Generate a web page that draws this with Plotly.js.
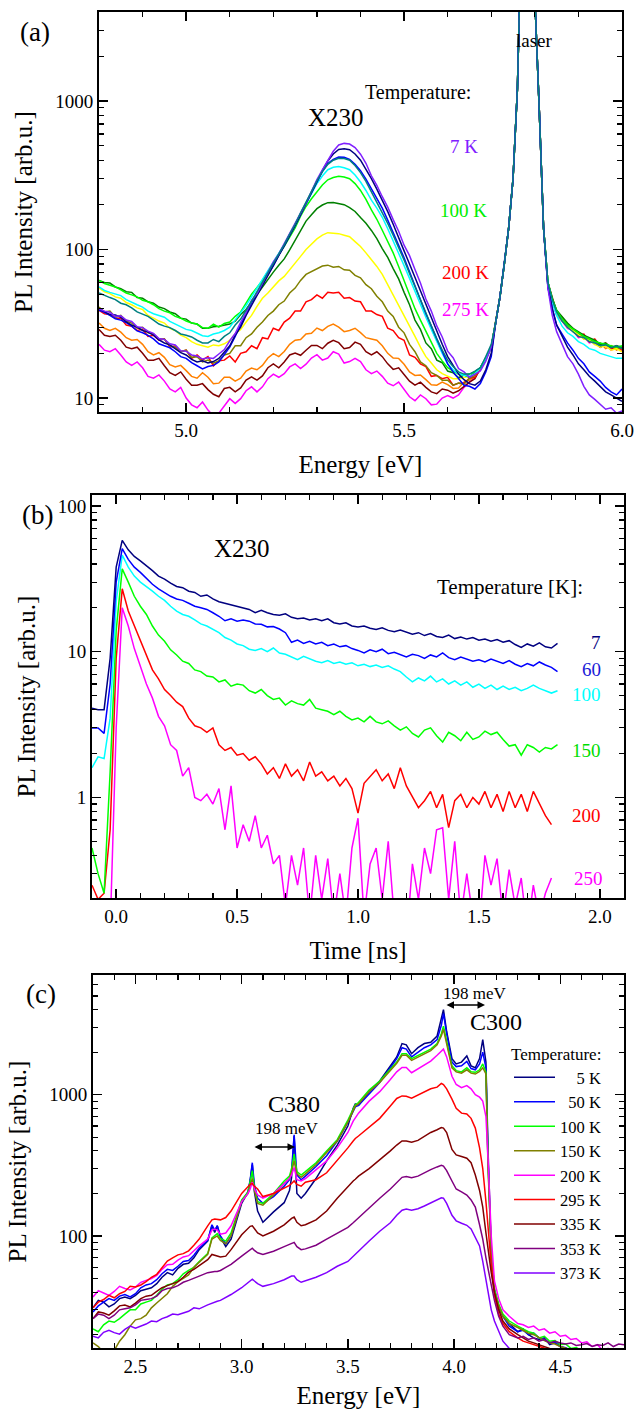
<!DOCTYPE html>
<html><head><meta charset="utf-8">
<script src="https://cdn.plot.ly/plotly-3.0.1.min.js"></script>
<style>html,body{margin:0;padding:0;background:#fff}#g{width:636px;height:1409px}</style>
</head><body><div id="g"></div>
<script>
// ---------- Panel (a): PL spectra vs energy ----------
const energyA = [4.8,4.8125,4.825,4.8375,4.85,4.8625,4.875,4.8875,4.9,4.9125,4.925,4.9375,4.95,4.9625,4.975,4.9875,5.0,5.0125,5.025,5.0375,
  5.05,5.0625,5.075,5.0875,5.1,5.1125,5.125,5.1375,5.15,5.1625,5.175,5.1875,5.2,5.2125,5.225,5.2375,5.25,5.2625,5.275,5.2875,
  5.3,5.3125,5.325,5.3375,5.35,5.3625,5.375,5.3875,5.4,5.4125,5.425,5.4375,5.45,5.4625,5.475,5.4875,5.5,5.5125,5.525,5.5375,
  5.55,5.5625,5.575,5.5875,5.6,5.6125,5.625,5.6375,5.65,5.6625,5.675,5.6875,5.7,
  5.71,5.72,5.73,5.74,5.75,5.76,5.77,5.80,5.81,5.82,
  5.83,5.84,5.85,5.8625,5.875,5.8875,5.9,5.9125,5.925,5.9375,5.95,5.9625,5.975,5.9875,6.0];
const laserCore = [32,48,80,140,300,1200,20000,5000,900,140];
const a_violet = [40,38.5,37.8,35.5,35.8,33.5,32.8,30.2,29.8,28.2,27.3,25.2,24.8,23.2,22.8,20.8,20.7,19.5,19.2,18.3,18.7,18.5,19.8,21.2,24.3,27.2,32.4,37.6,45.5,50.6,
  59.5,69.5,82.5,93.5,109,127,151,175,206,247,296,344,401,459,506,519,514,486,439,381,314,271,227,193,159,133,107,91,73.5,59.5,
  46.5,38.5,30.6,25.8,20.7,18.7,15.8,15,13.8,14.4,15.2,17.7,22,
  ...laserCore, 55,36,28,23,19,17,14.5,12,10.5,9.8,9,8.4,8.6,7.9,8.2];
const a_navy = [40,38.2,36.5,36.2,35,32.6,31,30,28.5,27.8,26.5,24.6,23.5,22.8,21.5,20.2,19.5,18.2,17.5,17.8,17.2,17.6,18.5,20.5,22.5,26.5,30,36,42,49,
  57,67,78,92,106,124,145,172,205,244,290,340,395,440,472,478,470,440,400,350,300,255,215,180,148,122,98,80,65,52,
  42,34.5,28,23,19,16.5,14.5,13.3,12.5,12.2,13,15.5,20,
  ...laserCore, 56,40,31,26,22,19.5,17,15.5,14,13,12,11,10.5,10,9.5];
const a_blue = [39,37.8,36,34.2,33.5,32.2,30.5,28.3,27.5,26.4,25,23.2,22.5,21.8,20.5,19,18.5,17.3,16.5,15.7,16.3,16.6,17.5,19.8,22,26,31,37.5,44,51,
  58,68,78,92,106,125,145,172,205,245,285,335,380,405,420,418,405,375,340,298,255,220,190,158,130,108,88,71,57,46,
  37,30.5,25,20.5,17,15,13.5,12.2,12,11.5,12.5,15,19,
  ...laserCore, 56,40,31,27,23.5,21,18.5,17,15,14,13,11.8,11,10.5,11.5];
const a_teal = [51,49.5,47.5,46,43.5,42.5,40.5,38,36.5,35.5,33.5,31.5,30.5,29.8,28.5,27,26.5,25.8,24.5,23.5,23.5,24.8,24,26,27.5,31,34,39.5,45,52,
  60,69,80,93,108,127,148,177,210,250,290,335,375,400,412,410,400,368,330,288,245,210,180,150,125,104,85,69,56,46,
  37,30.5,25,21,18,16.3,15,14.5,14.5,15.2,16,19,23,
  ...laserCore, 60,46,38,33,30,28,26,25.5,24,23.5,22.5,22.8,21.8,22.5,21.5];
const a_cyan = [56,53,51.5,50.5,49,46,44,42.5,41,38.5,37,36.2,35,32.8,31.5,30.5,29,28.5,27.5,26.3,26,27,27.5,28.5,30,33.5,37,42,48,55,
  62,71,82,94,108,126,145,174,205,240,278,313,345,358,362,356,345,318,285,250,215,190,165,138,115,96,78,64,52,43,
  35,29,24,20,17,15.5,14.5,14.2,14,14.6,16,18.5,22,
  ...laserCore, 60,44,36,30.5,27.5,26,24,23,21.5,21,20,19.5,19,18.5,18.5];
const a_lime = [62,59,57.5,56,53.5,51,49.5,48,45.5,44.5,42.5,40,38.5,37.5,35.5,34.5,33,32,31.5,29.8,29.5,31.5,30,31.8,32.5,35.5,38,43.5,50,55.5,
  62,71,80,92,105,122,140,168,195,220,245,272,295,306,312,308,300,278,250,218,185,160,135,114,95,77,62,50,40,33.5,
  28,23.5,20,17.8,16,15.2,14.5,14.3,14.5,15,16,18.5,22,
  ...laserCore, 60,46,39,34,31,29,27.5,26,25,24,23.5,23,22.5,22,22.5];
const a_green = [62,60,59.5,56,54.5,52,51.5,47.5,47,44.5,43.5,41,40,38,37,34.5,34,32,31.5,29.5,29.5,30.2,30.5,31,31.5,33,36.5,39.5,44.5,49.5,
  56.5,62.5,70.5,78.5,86.5,99.5,115.5,134.5,155.5,171.5,188.5,199.5,207,207.5,205,200.5,191.5,180.5,164.5,150.5,134.5,118.5,101.5,88.5,74.5,63.5,51.5,42.5,33.5,29,
  23.5,21.5,18,17.3,15.2,14.8,13.7,14.3,13.8,15,16,18.2,22,
  ...laserCore, 60,47,39,35,32,29.5,28,26.5,25.5,24.5,23,23.5,22,22.5,22];
const a_yellow = [55,52,50.5,48,47,44,42.5,40.5,39.5,36,34.5,33,32,29.5,28.5,26.5,25.5,24,23,22.5,22,22.8,22.5,23.2,24.5,27,29,32.5,36,41.5,
  47,51,56,61.5,66,73,80,90,100,109,118,125,130,129,128,125,122,113,105,95,86,77,68,58,50,42.5,36,30.5,26,22,
  19,17.2,15.5,14.6,14,13.5,13.5,13.8,14,14.6,16,18.5,22,
  ...laserCore, 60,45,37,33,30,28.5,26.5,25,24.5,23,22,22.5,21,21.5,20.5];
const a_olive = [41,38,38.5,35,36,33,32,29.5,30,27.5,27,25,25,22.5,22,20.5,21,18.8,19,17.5,18,17.2,17.8,19.5,20,22.5,22.5,25.5,27,30,
  32.5,36,38.5,42.5,45,51,55,62,68,71,75,77.5,78.5,76,77,73,72.5,67,64.5,58,54.5,48.5,44.5,38.5,35.5,30,27.5,23,20.5,17.5,
  16.5,14.8,14.2,13.2,13.2,12.2,12.6,12.4,13.6,14.2,16,18.5,22,
  ...laserCore, 60,47,38,34,31.5,28.5,27.5,26,25,24.5,23,22.5,22.5,21.5,22];
const a_red = [39,37,36.5,34.5,34.5,31,30.5,28.5,29,26,26.5,24.5,25,22,22.5,20.5,21,18.5,19.5,18,19,16.5,17.8,18,19.2,17.5,20,20.5,22.5,21.5,
  25.5,25,29.5,28.5,32.5,34.5,38.5,38.5,44.5,46,49.5,47,51.5,51,51.5,47,47.5,45,44.5,38.5,38.5,36.5,35.5,29.5,28.5,25.5,24.5,19.5,18.8,17,
  16.3,14,14.2,13.5,13.8,12.2,12.6,12.6,13.6,13.8,16,18.5,22,
  ...laserCore, 60,46,38.5,35,31,29.5,26.5,27,24,25,22.5,23.5,21.5,22.5,21];
const a_orange = [32,29.5,28.5,29.5,27.8,25.5,24.5,24.8,23,20.5,19.5,20.2,18.8,16.8,16.2,16.6,15.3,14,13.6,14.8,13.8,12.5,12.6,13.8,13.8,13,13.6,15.2,15.9,15.5,
  16.6,18.6,19.9,19,20.6,23,24.5,24.8,27,27.3,29.6,28.5,30.4,31.5,30,28,28.5,29.5,27.6,25.5,25,24.5,22.5,20,18.6,18.5,16.9,15,14.2,14.3,
  13.3,12.3,12.2,12.8,12.3,11.6,11.7,12.8,13.2,13.9,15.8,18.5,22,
  ...laserCore, 58,45,38,33,31,28,27,25,25,23,23.5,21.5,22.5,21,22];
const a_maroon = [29,26.5,26,26.5,24.5,22,21.5,22,20,18,18,18.5,16.5,14.8,14.2,15,13.4,12.2,12.2,12.5,11.4,10.6,10.2,11.6,11.8,11,11.7,13.2,13.9,13.2,
  14.1,16,17,16,17.5,19.5,20.1,19.4,21,22.6,22.6,21.5,23.4,24.5,23.6,21.5,21.9,23.8,23,20.5,19.5,20.5,19,17,15.6,16,14.4,13,12.2,12.8,
  11.8,11,10.7,11.5,11.3,10.8,11.2,12,12.8,13.5,15.8,18.5,22,
  ...laserCore, 58,46,37,34,30,29,26,26.5,24,24.5,22,23,21.5,22,21.5];
const a_magenta = [23,21,20.5,21.5,19.5,17.5,16.6,17.5,16,14,13.6,14.3,13,11.5,11,11.8,10,9,8.6,9.4,8.3,7.6,7.9,8.8,9.9,9.2,9.9,11.2,11.9,11,
  11.9,13.5,14.5,13.8,14.6,16.2,17,15.8,16.9,18.6,19.6,18,18.6,20.5,19.8,17.2,17.6,18.5,17.6,15.5,14.6,15.2,14,12.6,12.1,12.8,11.4,10.2,9.6,10.5,
  9.9,9,9.1,10,10.4,10,10.5,11.8,12.8,13.8,15.5,18.5,22,
  ...laserCore, 58,44,36,33,29.5,28.5,25.5,26,23.5,24,22,23,21,22,20.5];

// ---------- Panel (b): PL decay vs time ----------
const timeB = [-0.1,-0.075,-0.05,-0.025,0.0,0.025,0.05,0.075,0.1,0.125,0.15,0.175,0.2,0.225,0.25,0.275,0.3,0.325,0.35,0.375,0.4,0.425,0.45,0.475,0.5,0.525,0.55,0.575,0.6,0.625,0.65,0.675,0.7,0.725,0.75,0.775,0.8,0.825,0.85,0.875,0.9,0.925,0.95,0.975,1.0,1.025,1.05,1.075,1.1,1.125,1.15,1.175,1.2,1.225,1.25,1.275,1.3,1.325,1.35,1.375,1.4,1.425,1.45,1.475,1.5,1.525,1.55,1.575,1.6,1.625,1.65,1.675,1.7,1.725,1.75,1.775,1.8,1.825];
const b_7 = [4.1,4.0,4.0,9,38,58,50,45,42,39, 36,33,31.5,29.5,28,27.5,26,25.5,24,24.5, 23,22,21.5,21,20.5,20,19.5,18.5,19.2,18.5,
  18,17.8,18.2,17.2,16.8,17,16.5,16.8,16.3,16.8, 15.8,15.5,15.8,15,14.8,15,14.5,14.2,14.6,14, 13.7,14.1,13.6,13.2,13.5,12.9,13.3,12.7,12.5,13,
  12.3,12.6,12.2,12.5,12,12.2,11.8,12.1,11.6,11.9, 11.2,10.7,11.3,10.9,11.5,10.8,10.6,11.4];
const b_60 = [3.0,3.0,2.75,6,30,51,43,38,35,32, 29,27,25.5,24,23,22.5,21.5,20.5,20,19.5, 18.5,17.5,16.3,16.8,16.2,16.5,16.2,15.5,15.4,14.8,
  14.9,14.3,13.5,11.6,12,11.4,11.8,11.3,11.6,11, 11.3,10.8,11,10.5,10.2,9.8,10.3,10,10.4,9.7, 9.9,9.5,9.2,9.6,9.4,9,9.5,9.2,9.8,9.1,
  8.8,9.2,8.9,8.6,8.8,8.5,8.9,8.6,8.3,8.7, 8.2,7.9,8.3,8,8.5,8.1,7.8,7.3];
const b_100 = [1.6,1.9,1.85,3.5,22,46,38,33,30,28, 26,24,22.5,20.5,19,18,17.5,16.5,15.5,15, 14.3,13.5,12.5,12,11.3,11,10.4,10.2,10.5,10,
  10.6,9.8,9.6,9.2,8.8,9.3,8.9,8.6,8.4,8.7, 8.3,8.5,8.2,8.4,8,8.2,7.9,8.1,7.8,8, 7.6,7.3,6.7,6.2,6.6,6.3,6.8,6.2,6.5,6,
  6.3,5.9,6.2,5.7,6,5.6,5.9,5.5,5.8,5.5, 5.7,5.4,5.6,5.9,5.6,5.4,5.2,5.4];
const b_150 = [0.45,0.3,0.22,1.5,14,37,30,24,20.5,18, 15,13,11.8,10.3,9.5,8.6,8.3,7.5,7.3,6.8, 6.7,6.2,6.4,5.8,6,5.9,5.4,5.2,5.5,5.0,
  4.7,4.8,4.3,4.6,4.4,4.3,4.7,4.1,4.0,3.9, 3.7,3.9,3.6,3.4,3.5,3.3,3.6,3.3,3.2,3.35, 3.1,2.9,3.05,2.75,2.6,2.9,3.0,2.65,2.4,2.8,
  2.65,2.45,2.8,2.5,2.6,2.85,2.7,2.8,2.5,2.25, 2.3,1.95,2.3,2.2,2.05,2.2,2.15,2.3];
const b_200 = [0.25,0.2,0.22,0.6,9,27,19,15,12,9.3, 7.5,6.5,5.5,5.0,4.5,4.2,3.5,3.1,3.0,2.8, 3.0,2.3,2.1,2.2,1.95,2.0,1.8,1.9,1.7,1.45,
  1.6,1.35,1.7,1.4,1.55,1.3,1.75,1.4,1.5,1.3, 1.4,1.2,1.35,1.15,0.78,1.25,1.4,1.55,1.3,1.45, 1.15,1.6,1.2,1.0,0.85,0.95,1.1,0.85,1.05,0.62,
  0.95,1.05,0.85,1.0,0.9,1.1,0.85,1.05,0.8,1.1, 0.85,1.05,0.8,1.1,0.9,0.75,0.65,null];
const b_250 = [0.1,0.1,0.1,0.12,3,20,15,10.5,8,6, 4.8,3.6,3.1,2.3,2.1,1.4,1.6,1.0,0.95,1.05, 0.9,1.15,0.6,1.2,0.45,0.65,0.5,0.75,0.45,0.55,
  0.35,0.4,0.18,0.4,0.25,0.45,0.15,0.4,0.2,0.38, 0.15,0.3,0.15,0.45,0.72,0.15,0.35,0.45,0.2,0.5, 0.15,0.12,0.1,0.35,0.2,0.45,0.3,0.6,0.62,0.2,
  0.5,0.15,0.3,0.15,0.12,0.4,0.25,0.38,0.15,0.32, 0.18,0.28,0.12,0.25,0.15,0.22,0.28,null];

// ---------- Panel (c): PL spectra vs energy ----------
const energyC = [2.30,2.325,2.35,2.375,2.40,2.425,2.45,2.475,2.50,2.525,2.55,2.575,2.60,2.625,2.65,2.675,2.70,2.725,2.75,2.775,2.80,
  2.84,2.86,2.873,2.885,2.90,2.925,2.95,3.00,3.03, 3.04,3.05,3.06,3.075,3.10,3.15,3.20,3.225,3.235,3.247,
  3.26,3.28,3.30,3.35,3.40,3.45,3.50,3.525,3.535,3.55, 3.60,3.65,3.70,3.73,3.755,3.775,3.80,3.83,3.86,3.89,
  3.92,3.94,3.95,3.965,3.99,4.01,4.035,4.06,4.08,4.10, 4.12,4.135,4.15,4.16,4.175,4.19,4.21,4.23,4.26,
  4.30,4.325,4.35,4.375,4.40,4.425,4.45,4.475,4.50,4.525,4.55,4.575,4.60,4.625,4.65,4.675,4.70,4.725,4.75,4.775,4.80];
const c_5 = [31,35,34,31.5,33,36,37,36,38,41,42,43,46,51,55,53,59,63,64,70,80,
  92,118,106,118,98,84,95,170,205, 245,320,205,150,125,148,172,210,260,510,
  200,185,200,255,340,440,600,800,860,840, 1050,1250,1600,1850,2300,2250,1950,2150,2300,2350,
  2600,3400,4000,2800,1800,1650,1700,1880,1600,1550, 1800,2450,1700,400,80,42,32,27,24,
  21,22,20,19,18.5,19,17,17.5,16.5,15.8,15.5,15,15,14.5,14.5,14,14,13.8,13.5,13.2,13];
const c_50 = [29,32,34,36,35,37.5,38.5,37,39,43,45,46,49,54,58,57,61,66,67,73,82,
  93,120,110,118,100,88,100,175,205, 250,330,230,185,170,190,225,250,290,520,
  270,250,265,310,370,470,640,760,820,840, 1020,1220,1550,1800,2150,2100,1850,2000,2150,2250,
  2450,3100,3750,2700,1700,1580,1600,1720,1530,1500, 1650,2000,1550,350,75,40,31,27,23,
  21,21.5,20,20.5,19,18.5,17.5,17.8,16.5,16.2,15.5,15.5,15,14.8,14.5,14.2,14,13.8,13.5,13.3,13];
const c_100 = [22,21,23.5,25,24.5,26,28,30,30,33,34,35,38,42,45,46,49,54,57,60,66,
  75,97,100,104,96,92,105,180,205, 240,290,220,175,170,200,245,265,300,380,
  285,270,285,330,400,480,660,800,850,880, 1080,1250,1500,1700,1950,1950,1800,1900,2000,2100,
  2300,2700,3050,2400,1600,1480,1450,1550,1450,1440, 1500,1650,1450,320,80,42,33,28,25,
  23,22,21,20.5,19,19.5,18,18.2,17,17.2,16,16.2,15.5,15.3,15,15.2,14.5,14.6,14,14.2,14];
const c_150 = [17.5,16.5,15,15.8,15.5,18,20,23,25.5,26,27.5,31,33.5,36,39,44,47.5,50,53,60,65,
  74,95,97,100,93,88,100,175,200, 225,255,210,170,165,195,235,255,285,340,
  275,260,275,320,390,470,640,780,830,860, 1050,1220,1470,1670,1900,1900,1750,1850,1950,2050,
  2250,2600,2900,2300,1550,1450,1420,1500,1420,1400, 1460,1550,1400,300,78,40,32,27,24,
  22.5,21.5,20.5,20,19,18.2,17.5,17.2,16.5,16,15.5,15.2,15,14.8,14.5,14.2,14,13.8,13.5,13.6,13.5];
const c_200 = [37,41,39.5,38,40.5,44,42.5,41.5,43.5,47,48.5,50,52.5,58,62.5,63,67.5,71,72.5,79,85,
  95,110,112,110,103,105,118,175,200, 215,240,215,195,185,200,235,255,270,305,
  250,245,255,295,340,420,540,650,690,740, 900,1050,1280,1450,1560,1560,1430,1520,1620,1730,
  1900,2050,2100,1850,1350,1180,1120,1160,1100,1000, 960,900,700,350,100,48,36,30,27,
  24,23.5,22.5,23,21.5,22,20.5,21,19.5,19.8,18.5,18.8,17.5,17.8,16.5,17,15.5,16,15,15.3,14.5];
const c_295 = [31,34,35.5,38,36.5,39,40.5,44,43.5,45,47.5,51,53.5,60,66.5,70,73.5,75,78.5,86,95,
  118,130,132,131,130,135,150,200,225, 232,235,225,215,190,200,218,228,235,245,
  232,225,240,250,280,340,420,470,490,510, 590,680,830,940,980,975,945,990,1050,1100,
  1130,1200,1180,1100,930,800,740,730,680,580, 420,300,175,110,62,38,28,24,21,
  19,18,17.5,17,16.5,16,15.5,15.2,15,14.5,14,14,14,13.8,13.5,13.5,13.5,13.2,13,13,13];
const c_335 = [26,29,28.5,27.5,29.5,32,32.5,31.5,33.5,36,37.5,38,40.5,43,44.5,46,47.5,51,55.5,58,62,
  68,74,73,72,71,72,80,102,112, 117,118,112,105,100,108,120,130,133,136,
  125,118,120,130,150,185,225,245,252,265, 300,345,400,440,470,470,460,475,510,540,
  565,585,580,540,410,375,365,355,330,270, 210,160,105,80,55,40,30,25,22,
  20,19,18,17.5,17,16.5,16,15.8,15.5,15.2,15,14.8,14.5,14.5,14.5,14.2,14,14,14,13.8,13.5];
const c_353 = [26,28,27.5,26,27.5,30,30.5,31,32.5,35,35.5,36,37.5,41,42.5,43,44.5,47,48.5,50,52,
  55,56,56,56,57,60,63,72,78, 81,82,79,76,74,78,84,87,88,90,
  84,80,81,86,95,105,115,124,128,135, 160,185,215,240,260,263,258,265,280,295,
  308,316,312,290,245,215,205,195,180,160, 120,95,70,60,45,35,27,23,20,
  19,19.5,18.5,19,18,18.5,17.5,18,17.5,17.2,17.5,16.8,17,17.3,16.5,17,16.8,17.5,16.5,17.2,17];
const c_373 = [19.5,19,20.8,21.5,20.7,20.2,21.8,23,22.2,23,23.8,25,24.7,26,26.8,28,27.7,28.5,29.3,31,30.5,
  32.5,33.5,34,34.5,35,36.5,38.5,43,47, 48.5,49.5,48,46,44,46,49,51,52,52,
  49,47,48,51,55,61,66,72,75,78, 92,108,124,140,152,155,152,156,163,172,
  180,186,185,170,140,128,123,119,112,98, 85,66,48,40,30,25,21,18,16,
  15,14.8,14.5,14.2,14,14,14,13.8,13.5,13.5,13.5,13.2,13,13,13,12.8,13,12.7,12.5,12.5,12.5];

// ---------- labels ----------
const labelsA = ['7 K','100 K','200 K','275 K'];
const labelsB = ['7','60','100','150','200','250'];
const namesC = ['\u00a0\u00a0\u00a0\u00a05 K','\u00a0\u00a050 K','100 K','150 K','200 K','295 K','335 K','353 K','373 K'];

const FONT = 'Liberation Serif, Times New Roman, serif';
function tr(x, y, color, xa, ya, name, show){
  return {x:x, y:y, type:'scatter', mode:'lines', line:{color:color, width:1.5}, xaxis:xa, yaxis:ya,
          name:name||'', showlegend:!!show, hoverinfo:'skip', connectgaps:false};
}
const traces = [
  tr(energyA,a_magenta,'#ff00ff','x','y'), tr(energyA,a_maroon,'#800000','x','y'), tr(energyA,a_orange,'#ff8000','x','y'),
  tr(energyA,a_red,'#ff0000','x','y'), tr(energyA,a_olive,'#808000','x','y'), tr(energyA,a_yellow,'#ffff00','x','y'),
  tr(energyA,a_green,'#008000','x','y'), tr(energyA,a_lime,'#00ff00','x','y'), tr(energyA,a_cyan,'#00ffff','x','y'),
  tr(energyA,a_blue,'#0000ff','x','y'), tr(energyA,a_navy,'#000080','x','y'), tr(energyA,a_violet,'#8020ff','x','y'),
  tr(energyA,a_teal,'#008080','x','y'),
  tr(timeB,b_250,'#ff00ff','x2','y2'), tr(timeB,b_200,'#ff0000','x2','y2'), tr(timeB,b_150,'#00ff00','x2','y2'),
  tr(timeB,b_100,'#00ffff','x2','y2'), tr(timeB,b_60,'#0000ff','x2','y2'), tr(timeB,b_7,'#000080','x2','y2'),
  tr(energyC,c_5,'#000080','x3','y3',namesC[0],true), tr(energyC,c_50,'#0000ff','x3','y3',namesC[1],true),
  tr(energyC,c_100,'#00ff00','x3','y3',namesC[2],true), tr(energyC,c_150,'#808000','x3','y3',namesC[3],true),
  tr(energyC,c_200,'#ff00ff','x3','y3',namesC[4],true), tr(energyC,c_295,'#ff0000','x3','y3',namesC[5],true),
  tr(energyC,c_335,'#800000','x3','y3',namesC[6],true), tr(energyC,c_353,'#800080','x3','y3',namesC[7],true),
  tr(energyC,c_373,'#8000ff','x3','y3',namesC[8],true)
];

const W = 636, H = 1409;
const px = v => v / W, py = v => 1 - v / H;
function axBase(extra){
  return Object.assign({showline:true, linecolor:'#000', linewidth:2, mirror:'ticks', ticks:'inside', ticklen:9,
    tickwidth:1.5, tickcolor:'#000', showgrid:false, zeroline:false, tickfont:{family:FONT, size:19, color:'#000'}}, extra);
}
function xAx(domain, anchor, range, tick0, title){
  return axBase({domain:domain, anchor:anchor, range:range, dtick:0.5, tick0:tick0, tickformat:'.1f',
    minor:{dtick:0.1, tick0:tick0, ticks:'inside', ticklen:5, tickwidth:1.2, tickcolor:'#000', showgrid:false},
    title:{text:title, font:{family:FONT, size:25, color:'#000'}, standoff:16}});
}
function yAx(domain, anchor, range){
  return axBase({domain:domain, anchor:anchor, type:'log', range:range, dtick:1, exponentformat:'none',
    minor:{dtick:'D1', ticks:'inside', ticklen:5, tickwidth:1.2, tickcolor:'#000', showgrid:false},
    title:{text:'PL Intensity [arb.u.]', font:{family:FONT, size:25, color:'#000'}, standoff:15}});
}

function ann(text, x, y, size, color, extra){
  return Object.assign({text:text, xref:'paper', yref:'paper', x:px(x), y:py(y), xanchor:'center', yanchor:'middle',
    showarrow:false, font:{family:FONT, size:size, color:color||'#000'}}, extra||{});
}
const annotations = [
  ann('(a)', 35, 32, 27), ann('laser', 534, 40, 19), ann('Temperature:', 418, 92, 20), ann('X230', 336, 117, 25),
  ann(labelsA[0], 464, 147, 19, '#8020ff'), ann(labelsA[1], 463, 211, 19, '#00ee00'),
  ann(labelsA[2], 465, 272, 19, '#ff0000'), ann(labelsA[3], 466, 309, 19, '#ff00ff'),
  ann('(b)', 37, 515, 27), ann('X230', 242, 548, 25), ann('Temperature [K]:', 510, 587, 21),
  ann(labelsB[0], 603, 643, 19, '#000080', {xanchor:'right'}), ann(labelsB[1], 603, 670, 19, '#1a1ad8', {xanchor:'right'}),
  ann(labelsB[2], 603, 694, 19, '#00ffff', {xanchor:'right'}), ann(labelsB[3], 603, 750, 19, '#00dd00', {xanchor:'right'}),
  ann(labelsB[4], 603, 815, 19, '#ff0000', {xanchor:'right'}), ann(labelsB[5], 605, 878, 19, '#ff00ff', {xanchor:'right'}),
  ann('(c)', 41, 994, 27), ann('C380', 294, 1104, 24), ann('198 meV', 287, 1128, 17),
  ann('C300', 496, 1022, 24), ann('198 meV', 475, 993, 17),
  {text:'', xref:'paper', yref:'paper', x:px(295), y:py(1147), axref:'pixel', ayref:'pixel', ax:-42, ay:0,
   showarrow:true, arrowhead:2, arrowside:'end+start', arrowsize:1, arrowwidth:1.5, arrowcolor:'#000'},
  {text:'', xref:'paper', yref:'paper', x:px(485), y:py(1005), axref:'pixel', ayref:'pixel', ax:-40, ay:0,
   showarrow:true, arrowhead:2, arrowside:'end+start', arrowsize:1, arrowwidth:1.5, arrowcolor:'#000'}
];

const layout = {
  width:W, height:H, margin:{l:0, r:0, t:0, b:0}, paper_bgcolor:'#fff', plot_bgcolor:'#fff',
  font:{family:FONT, size:19, color:'#000'}, showlegend:true,
  xaxis: xAx([px(99), px(622)], 'y', [4.8, 6.0], 5.0, 'Energy [eV]'),
  yaxis: yAx([py(412), py(12)], 'x', [0.906, 3.6]),
  xaxis2: xAx([px(92), px(624)], 'y2', [-0.1, 2.1], 0, 'Time [ns]'),
  yaxis2: yAx([py(898), py(495)], 'x2', [-0.69, 2.075]),
  xaxis3: xAx([px(93), px(624)], 'y3', [2.3, 4.8], 2.5, 'Energy [eV]'),
  yaxis3: yAx([py(1348), py(975)], 'x3', [1.207, 3.847]),
  legend:{x:px(509), y:py(1038), xanchor:'left', yanchor:'top', bgcolor:'rgba(0,0,0,0)', borderwidth:0,
    font:{family:FONT, size:16.5, color:'#000'}, itemwidth:41, tracegroupgap:0,
    title:{text:'Temperature:', side:'top', font:{family:FONT, size:17, color:'#000'}}},
  annotations: annotations
};
Plotly.newPlot('g', traces, layout, {staticPlot:true, displayModeBar:false});
</script></body></html>
